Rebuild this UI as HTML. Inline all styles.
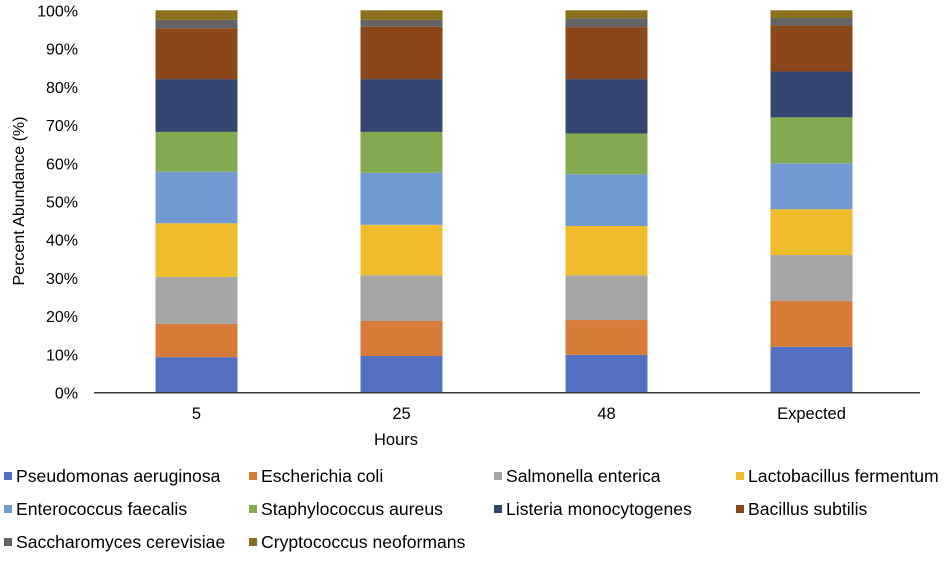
<!DOCTYPE html>
<html><head><meta charset="utf-8"><style>
body{margin:0;background:#fff;}
svg text{font-family:"Liberation Sans",Arial,sans-serif;fill:#000;}
</style></head><body>
<svg id="chart" width="950" height="556" viewBox="0 0 950 556" xmlns="http://www.w3.org/2000/svg">
<g id="grid"></g><g id="bars"></g><g id="axes"></g><g id="legend"></g>
</svg>
<script>
const categories = ["5","25","48","Expected"];
const species = ["Pseudomonas aeruginosa","Escherichia coli","Salmonella enterica","Lactobacillus fermentum","Enterococcus faecalis","Staphylococcus aureus","Listeria monocytogenes","Bacillus subtilis","Saccharomyces cerevisiae","Cryptococcus neoformans"];
const colors = ["#5470c1","#d67b38","#a6a6a6","#efbd2b","#719ad2","#84aa51","#33466f","#8a4719","#646464","#8a6f1c"];
const values5 = [9.3,8.7,12.3,14.0,13.5,10.4,13.8,13.3,2.2,2.5];
const values25 = [9.6,9.15,11.95,13.2,13.6,10.7,13.8,13.7,1.8,2.5];
const values48 = [9.9,9.1,11.7,12.9,13.5,10.7,14.2,13.6,2.3,2.1];
const valuesExpected = [12,12,12,12,12,12,12,12,2,2];
const series = [values5, values25, values48, valuesExpected];
const yTicks = [0,10,20,30,40,50,60,70,80,90,100];

const NS="http://www.w3.org/2000/svg";
const x0=94, x1=914, yBase=392.7, yTop=10.3;
const band=(x1-x0)/categories.length, barW=82;
const yScale=v=>yBase-(v/100)*(yBase-yTop);
const xCenter=i=>x0+band*(i+0.5);
function mk(tag,attrs,parent){const e=document.createElementNS(NS,tag);for(const k in attrs)e.setAttribute(k,attrs[k]);parent.appendChild(e);return e;}
const gB=document.getElementById('bars'), gA=document.getElementById('axes'), gL=document.getElementById('legend');

series.forEach((vals,ci)=>{
  let cum=0;
  vals.forEach((v,si)=>{
    const r=mk('rect',{x:xCenter(ci)-barW/2,y:yScale(cum+v),width:barW,height:yScale(cum)-yScale(cum+v),fill:colors[si]},gB);
    
    
    cum+=v;
  });
});

yTicks.forEach(t=>{
  const tx=mk('text',{x:78,y:yScale(t)+6,'text-anchor':'end','font-size':16},gA);
  tx.textContent=t+'%';
  
  
});
const ax=mk('line',{x1:x0,y1:yBase,x2:x1+6,y2:yBase,stroke:'#404040','stroke-width':1.5},gA);


categories.forEach((c,i)=>{
  const tx=mk('text',{x:xCenter(i),y:419,'text-anchor':'middle','font-size':16.5},gA);
  tx.textContent=c;
  
  
});
const xt=mk('text',{x:396,y:445,'text-anchor':'middle','font-size':16.5},gA);
xt.textContent='Hours';


const yt=mk('text',{x:0,y:0,'text-anchor':'middle','font-size':16,transform:'translate(24,201) rotate(-90)'},gA);
yt.textContent='Percent Abundance (%)';



const colX=[4,249,494,736], rowY=[476,509,542];
species.forEach((s,i)=>{
  const cx=colX[i%4], cy=rowY[Math.floor(i/4)];
  const g=mk('g',{},gL);
  
  
  mk('rect',{x:cx,y:cy-4,width:8,height:8,fill:colors[i]},g);
  const t=mk('text',{x:cx+12,y:cy+6,'font-size':17.6},g);
  t.textContent=s;
});
</script>
</body></html>
